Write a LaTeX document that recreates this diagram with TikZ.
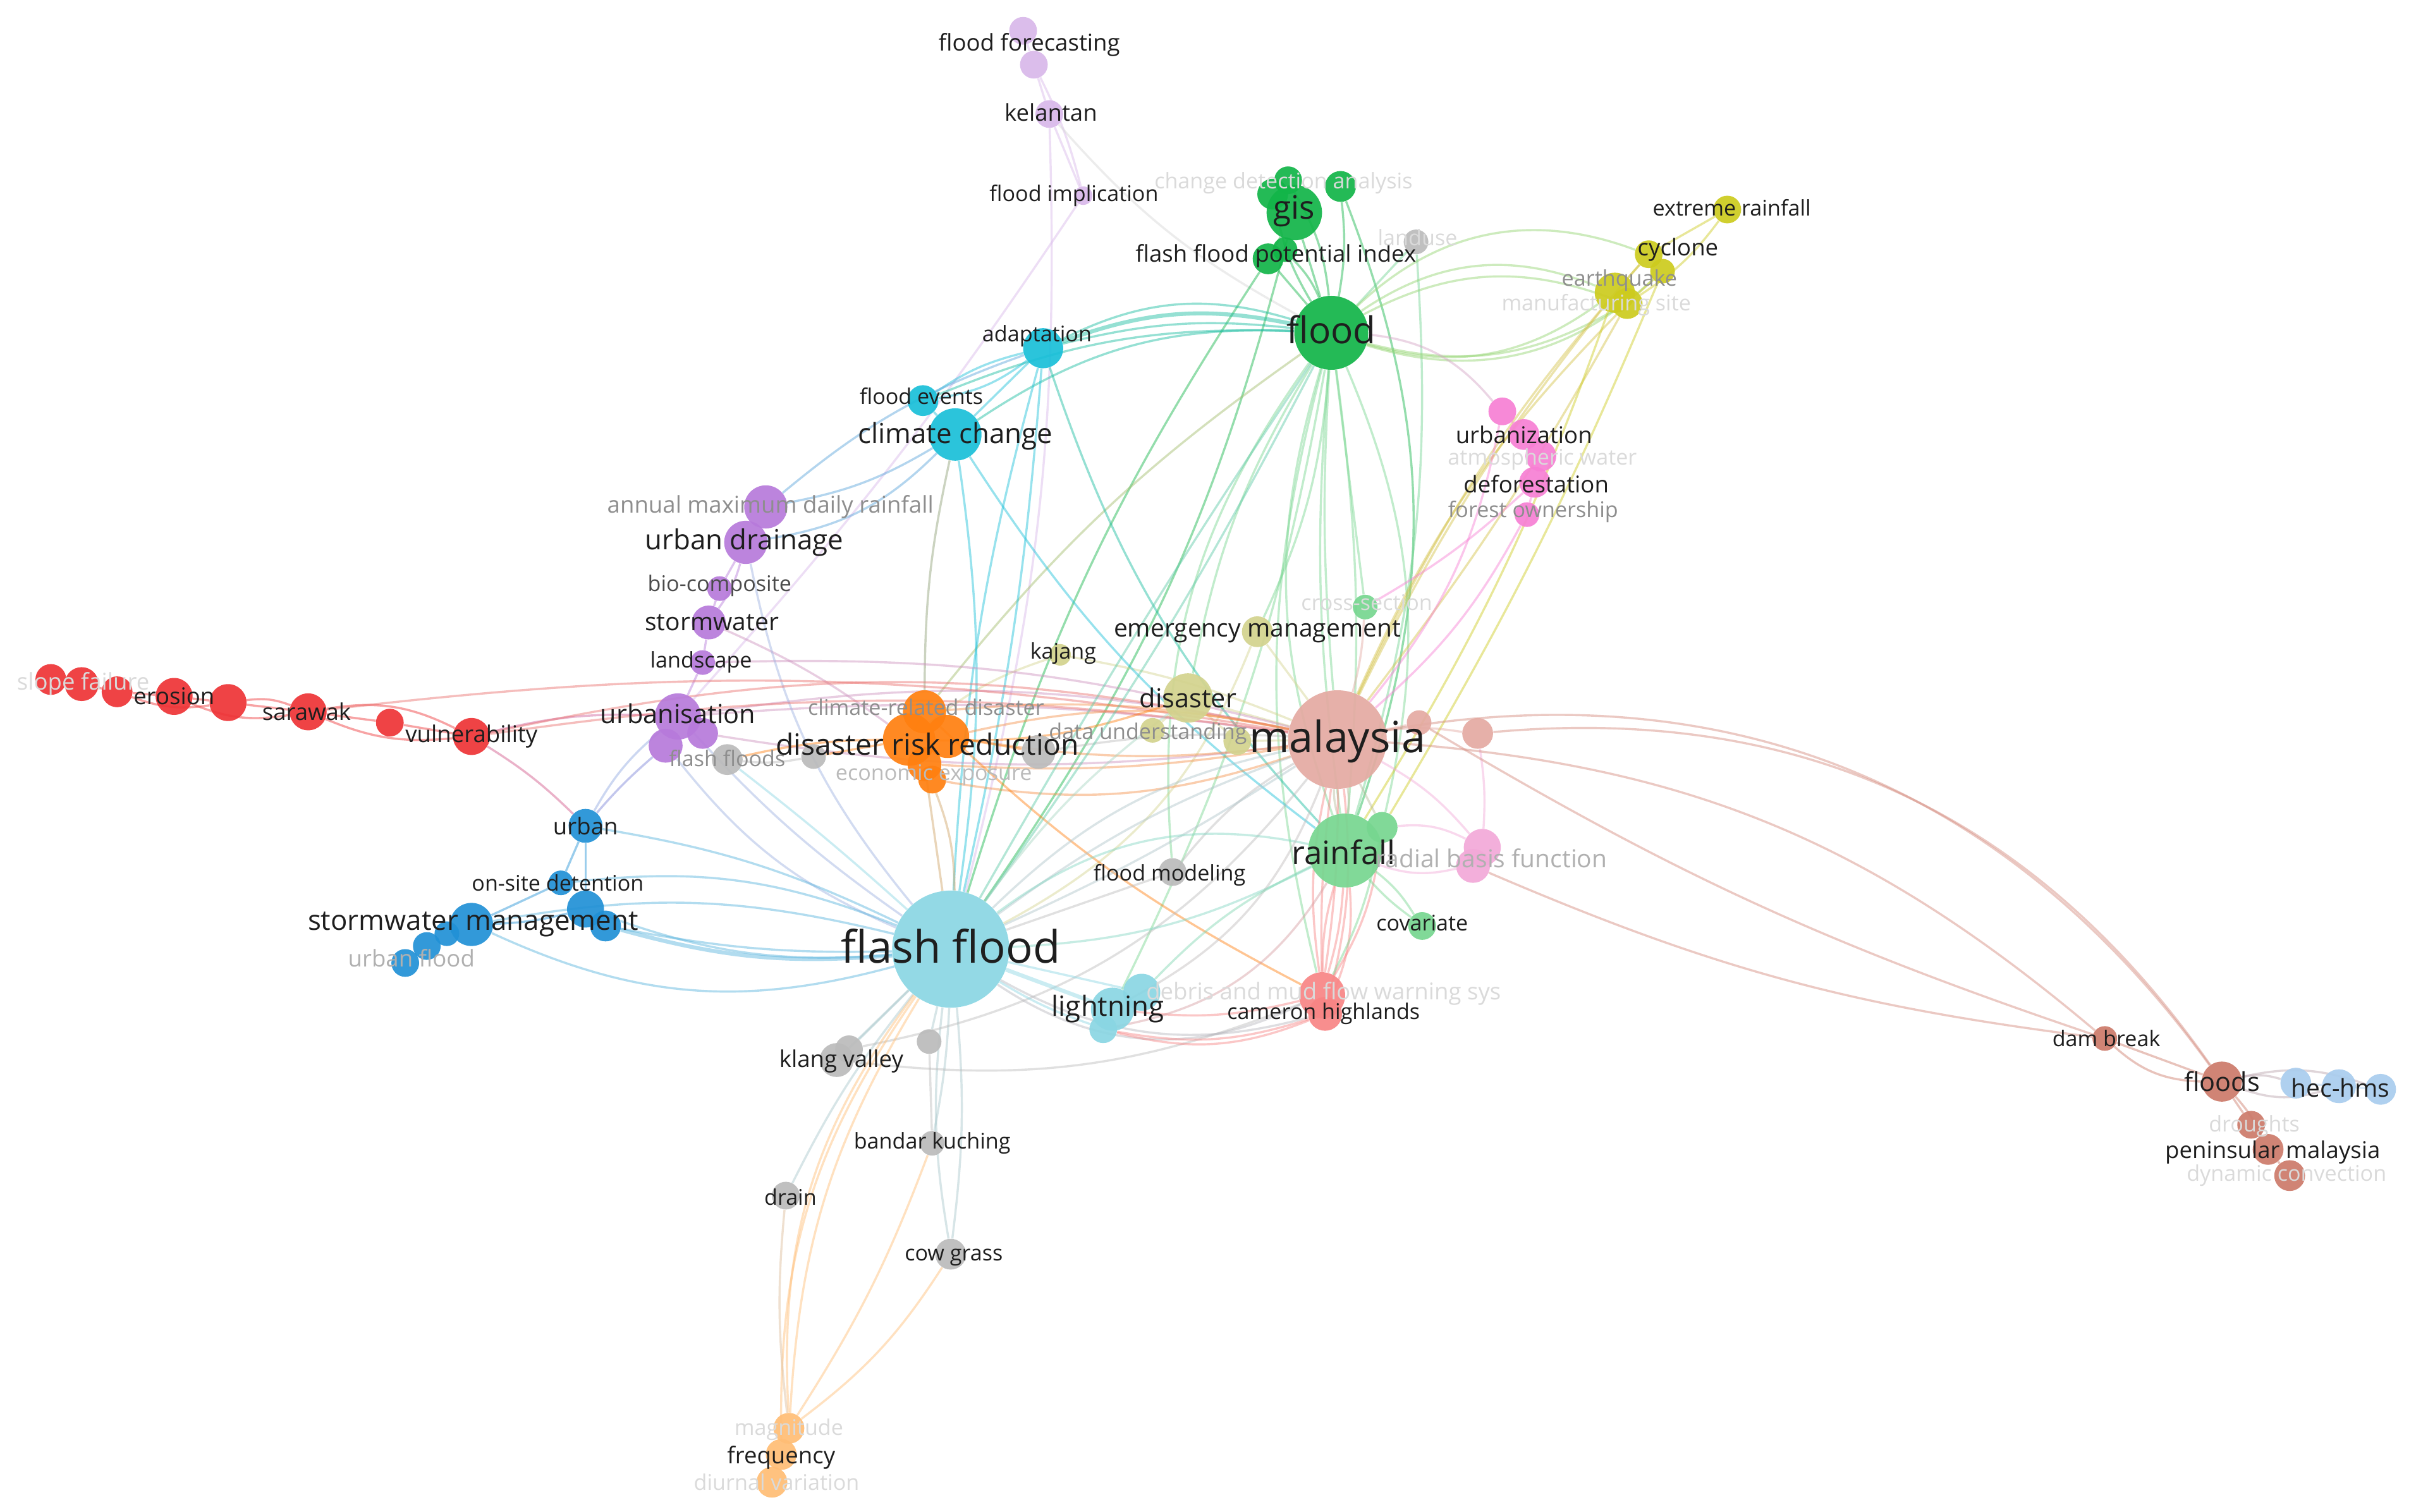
\documentclass[tikz,border=0pt]{standalone}
\usepackage{fontspec}
\setmainfont{Open Sans}
\pgfdeclarelayer{bg}
\pgfdeclarelayer{canvas}
\pgfsetlayers{canvas,bg,main}
\definecolor{cLav}{HTML}{D9B8EA}
\definecolor{cGreen}{HTML}{12B548}
\definecolor{cOlive}{HTML}{CDCB1E}
\definecolor{cOliveL}{HTML}{D3D38E}
\definecolor{cCyan}{HTML}{19BFD9}
\definecolor{cPurple}{HTML}{B77ADB}
\definecolor{cRed}{HTML}{EE3336}
\definecolor{cOrange}{HTML}{FF8010}
\definecolor{cGray}{HTML}{BBBBBB}
\definecolor{cBlue}{HTML}{2191D6}
\definecolor{cLCyan}{HTML}{8AD6E3}
\definecolor{cSalmon}{HTML}{E4AAA2}
\definecolor{cLGreen}{HTML}{77D690}
\definecolor{cPink}{HTML}{F77FD4}
\definecolor{cPinkL}{HTML}{F2A9D8}
\definecolor{cCoral}{HTML}{F88585}
\definecolor{cBrown}{HTML}{CC7A6A}
\definecolor{cLBlue}{HTML}{A9CDEE}
\definecolor{cLOrange}{HTML}{FFBD75}
\definecolor{labDark}{HTML}{1E1E1E}
\definecolor{labMid}{HTML}{8E8E8E}
\definecolor{labFaint}{HTML}{DADADA}
\tikzset{
  dot/.style={circle,inner sep=0pt,minimum size=2*#1,opacity=0.92},
  lab/.style={inner sep=0pt,text=labDark,font=\fontsize{#1}{#1}\selectfont},
  labm/.style={inner sep=0pt,text=labMid,font=\fontsize{#1}{#1}\selectfont},
  labf/.style={inner sep=0pt,text=labFaint,font=\fontsize{#1}{#1}\selectfont},
  ed/.style={line width=1.4pt,draw opacity=0.45,draw=#1},
  edt/.style={line width=2.6pt,draw opacity=0.45,draw=#1},
}
\begin{document}
\begin{tikzpicture}[x=1pt,y=-1pt]
\begin{pgfonlayer}{canvas}
\fill[white] (0,0) rectangle (1568,981);
\end{pgfonlayer}
\useasboundingbox (0,0) rectangle (1568,981);
% ---------------- circles ----------------
% lavender
\node[dot=9,fill=cLav] (ffc1) at (664,20) {};
\node[dot=9,fill=cLav] (ffc2) at (671,42) {};
\node[dot=9,fill=cLav] (kel) at (681,74) {};
\node[dot=6,fill=cLav] (fimp) at (703,127) {};
% green
\node[dot=9,fill=cGreen] (gis4) at (836,117) {};
\node[dot=10,fill=cGreen] (gis3) at (870,121) {};
\node[dot=10,fill=cGreen] (gis2) at (826,126) {};
\node[dot=18,fill=cGreen] (gis) at (840,138) {};
\node[dot=10,fill=cGreen] (ffpi) at (823,168) {};
\node[dot=8,fill=cGreen] (ffpi2) at (834,162) {};
\node[dot=24,fill=cGreen] (flood) at (864,216) {};
\node[dot=8,fill=cGray] (landuse) at (919,157) {};
\node[dot=8,fill=cLGreen] (xsec) at (886,394) {};
% olive
\node[dot=9,fill=cOlive] (er) at (1121,136) {};
\node[dot=9,fill=cOlive] (cyc) at (1070,165) {};
\node[dot=8,fill=cOlive] (cyc2) at (1079,176) {};
\node[dot=13,fill=cOlive] (eq) at (1048,190) {};
\node[dot=10,fill=cOlive] (eq2) at (1056,197) {};
\node[dot=10,fill=cOliveL] (em) at (816,410) {};
\node[dot=7,fill=cOliveL] (kaj) at (688,425) {};
\node[dot=16,fill=cOliveL] (dis) at (771,453) {};
\node[dot=8,fill=cOliveL] (du1) at (748,474) {};
\node[dot=9,fill=cOliveL] (du2) at (803,481) {};
% cyan
\node[dot=13,fill=cCyan] (adp) at (677,226) {};
\node[dot=10,fill=cCyan] (fev) at (599,260) {};
\node[dot=17,fill=cCyan] (cc) at (620,282) {};
% purple
\node[dot=14,fill=cPurple] (amd) at (497,329) {};
\node[dot=14,fill=cPurple] (ud) at (484,352) {};
\node[dot=8,fill=cPurple] (bio) at (467,382) {};
\node[dot=11,fill=cPurple] (sw) at (460,404) {};
\node[dot=8,fill=cPurple] (lsc) at (456,430) {};
\node[dot=15,fill=cPurple] (urb) at (440,465) {};
\node[dot=11,fill=cPurple] (urb2) at (432,484) {};
\node[dot=10,fill=cPurple] (urb3) at (456,476) {};
% red
\node[dot=10,fill=cRed] (sf1) at (33,441) {};
\node[dot=11,fill=cRed] (sf2) at (53,444) {};
\node[dot=10,fill=cRed] (sf3) at (76,449) {};
\node[dot=12,fill=cRed] (ero) at (113,452) {};
\node[dot=12,fill=cRed] (ero2) at (148,456) {};
\node[dot=12,fill=cRed] (sar) at (200,462) {};
\node[dot=9,fill=cRed] (red7) at (253,469) {};
\node[dot=12,fill=cRed] (vul) at (306,478) {};
% orange
\node[dot=14,fill=cOrange] (drr2) at (600,462) {};
\node[dot=14,fill=cOrange] (drr3) at (615,478) {};
\node[dot=17,fill=cOrange] (drr) at (590,480) {};
\node[dot=11,fill=cOrange] (drr4) at (600,496) {};
\node[dot=9,fill=cOrange] (drr5) at (605,506) {};
% gray
\node[dot=10,fill=cGray] (fls) at (472,493) {};
\node[dot=8,fill=cGray] (g2) at (528,491) {};
\node[dot=11,fill=cGray] (g3) at (674,488) {};
\node[dot=9,fill=cGray] (fm) at (761,566) {};
\node[dot=9,fill=cGray] (kv2) at (551,681) {};
\node[dot=11,fill=cGray] (kv) at (543,688) {};
\node[dot=8,fill=cGray] (g4) at (603,676) {};
\node[dot=8,fill=cGray] (bk) at (605,742) {};
\node[dot=9,fill=cGray] (drn) at (510,776) {};
\node[dot=10,fill=cGray] (cg) at (617,814) {};
% blue
\node[dot=11,fill=cBlue] (ub) at (380,536) {};
\node[dot=8,fill=cBlue] (osd) at (364,573) {};
\node[dot=14,fill=cBlue] (swm) at (306,600) {};
\node[dot=12,fill=cBlue] (swm2) at (380,590) {};
\node[dot=10,fill=cBlue] (swm3) at (393,601) {};
\node[dot=8,fill=cBlue] (uf3) at (290,606) {};
\node[dot=9,fill=cBlue] (uf2) at (277,614) {};
\node[dot=9,fill=cBlue] (uf1) at (263,625) {};
% light cyan
\node[dot=38,fill=cLCyan] (ffl) at (617,616) {};
\node[dot=12,fill=cLCyan] (lt2) at (741,644) {};
\node[dot=14,fill=cLCyan] (lt) at (722,655) {};
\node[dot=9,fill=cLCyan] (lt3) at (716,668) {};
% salmon
\node[dot=32,fill=cSalmon] (mal) at (868,480) {};
\node[dot=8,fill=cSalmon] (m2) at (921,469) {};
\node[dot=10,fill=cSalmon] (m3) at (959,476) {};
% light green
\node[dot=10,fill=cLGreen] (rf2) at (897,537) {};
\node[dot=24,fill=cLGreen] (rf) at (873,552) {};
\node[dot=9,fill=cLGreen] (cov) at (923,601) {};
% pink
\node[dot=9,fill=cPink] (uz1) at (975,267) {};
\node[dot=10,fill=cPink] (uz2) at (989,282) {};
\node[dot=10,fill=cPink] (uz3) at (1000,296) {};
\node[dot=10,fill=cPink] (def) at (996,313) {};
\node[dot=8,fill=cPink] (fo) at (991,334) {};
\node[dot=12,fill=cPinkL] (rbf) at (962,550) {};
\node[dot=11,fill=cPinkL] (rbf2) at (956,562) {};
% coral
\node[dot=15,fill=cCoral] (ch) at (858,646) {};
\node[dot=11,fill=cCoral] (ch2) at (860,658) {};
% brown
\node[dot=8,fill=cBrown] (db) at (1366,674) {};
\node[dot=13,fill=cBrown] (flds) at (1442,702) {};
\node[dot=9,fill=cBrown] (dr) at (1461,730) {};
\node[dot=10,fill=cBrown] (pm) at (1472,746) {};
\node[dot=10,fill=cBrown] (dc) at (1486,763) {};
% light blue
\node[dot=10,fill=cLBlue] (hh1) at (1490,703) {};
\node[dot=11,fill=cLBlue] (hh2) at (1518,705) {};
\node[dot=10,fill=cLBlue] (hh3) at (1545,707) {};
% light orange
\node[dot=10,fill=cLOrange] (mag) at (512,927) {};
\node[dot=10,fill=cLOrange] (frq) at (507,944) {};
\node[dot=10,fill=cLOrange] (dv) at (501,962) {};

% ---------------- edges ----------------
\begin{pgfonlayer}{bg}
% lavender chain
\draw[ed=cLav] (ffc1) -- (ffc2) -- (kel) -- (fimp);
\draw[ed=cLav] (kel) to[bend left=8] (ffl);
\draw[ed=cLav] (ffc2) to[bend left=6] (fimp);
\draw[ed=cLav] (fimp) to[bend left=4] (urb);
\draw[ed=cGray!60] (kel) to[bend right=10] (flood);
% green cluster
\draw[ed=cGreen] (gis) -- (flood);
\draw[ed=cGreen] (gis2) to[bend right=10] (flood);
\draw[ed=cGreen] (gis3) to[bend left=8] (flood);
\draw[ed=cGreen] (gis4) to[bend left=12] (flood);
\draw[ed=cGreen] (ffpi) -- (flood);
\draw[ed=cGreen] (ffpi2) to[bend left=10] (flood);
\draw[ed=cGreen] (gis) -- (ffpi);
\draw[ed=cGreen] (gis3) to[bend left=20] (rf);
\draw[ed=cGreen] (gis) to[bend left=10] (ffl);
\draw[ed=cGreen] (ffpi) to[bend right=8] (ffl);
\draw[ed=cGreen!60] (landuse) to (flood);
\draw[ed=cGreen!60] (landuse) to[bend left=10] (rf);
\draw[ed=cLGreen] (flood) to[bend right=6] (rf);
\draw[ed=cLGreen] (flood) to[bend left=6] (rf);
\draw[ed=cLGreen] (flood) to[bend right=18] (rf);
\draw[ed=cLGreen] (flood) to[bend left=18] (rf2);
\draw[ed=cLGreen] (flood) -- (xsec);
\draw[ed=cLGreen] (flood) to[bend left=10] (em);
\draw[ed=cLGreen] (flood) to[bend right=14] (ch);
\draw[ed=cLGreen] (flood) to[bend right=10] (dis);
\draw[ed=cLGreen] (flood) to[bend right=4] (mal);
\draw[ed=cLGreen] (flood) to[bend right=20] (fm);
\draw[ed=cLGreen] (flood) to[bend left=8] (lt);
\draw[ed=cLGreen!70!cOrange] (flood) to[bend right=8] (drr2);
% flood - adaptation / climate change bundle
\draw[edt=cCyan!60!cGreen] (flood) to[bend right=16] (adp);
\draw[ed=cCyan!60!cGreen] (flood) to[bend right=22] (adp);
\draw[ed=cCyan!60!cGreen] (flood) to[bend right=10] (adp);
\draw[ed=cCyan!60!cGreen] (flood) to[bend right=18] (cc);
\draw[ed=cCyan!60!cGreen] (flood) to[bend right=12] (fev);
% flood - earthquake bundle (light green)
\draw[ed=cLGreen!70!cOlive] (flood) to[bend left=28] (eq);
\draw[ed=cLGreen!70!cOlive] (flood) to[bend left=24] (eq2);
\draw[ed=cLGreen!70!cOlive] (flood) to[bend left=32] (cyc);
\draw[ed=cLGreen!70!cOlive] (flood) to[bend right=26] (eq);
\draw[ed=cLGreen!70!cOlive] (flood) to[bend right=22] (eq2);
\draw[ed=cLGreen!70!cOlive] (flood) to[bend right=30] (cyc2);
\draw[ed=cGray!60!cPink] (flood) to[bend left=22] (uz1);
% olive
\draw[ed=cOlive] (er) -- (cyc) -- (eq);
\draw[ed=cOlive] (er) to[bend left=10] (eq2);
\draw[ed=cOlive] (cyc2) -- (eq2);
\draw[ed=cOlive!70!cSalmon] (eq) to[bend right=6] (mal);
\draw[ed=cOlive!70!cSalmon] (eq2) to[bend right=10] (mal);
\draw[ed=cOlive!70!cSalmon] (cyc) to[bend right=8] (mal);
\draw[ed=cOlive!70!cSalmon] (eq2) to[bend left=4] (mal);
\draw[ed=cOlive] (eq) to[bend left=6] (rf);
\draw[ed=cOlive] (cyc2) to[bend left=4] (rf2);
\draw[ed=cOliveL] (em) -- (mal);
\draw[ed=cOliveL] (kaj) to[bend left=6] (mal);
\draw[ed=cOliveL] (dis) -- (mal);
\draw[ed=cOliveL] (du1) -- (dis);
\draw[ed=cOliveL] (du2) -- (mal);
\draw[ed=cOliveL] (dis) -- (du2);
\draw[ed=cOliveL] (kaj) to[bend right=10] (drr);
\draw[ed=cOliveL] (em) to[bend left=20] (ffl);
% cyan
\draw[ed=cCyan] (cc) -- (adp);
\draw[ed=cCyan] (cc) -- (fev);
\draw[ed=cCyan] (fev) to[bend left=10] (adp);
\draw[ed=cCyan] (adp) to[bend left=14] (fev);
\draw[ed=cCyan!60!cPurple] (cc) to[bend left=10] (amd);
\draw[ed=cCyan!60!cPurple] (cc) to[bend left=18] (ud);
\draw[ed=cCyan!60!cPurple] (adp) to[bend right=10] (amd);
\draw[ed=cCyan] (cc) to[bend left=8] (ffl);
\draw[ed=cCyan] (adp) to[bend right=6] (ffl);
\draw[ed=cCyan] (adp) to[bend left=4] (ffl);
\draw[ed=cCyan] (cc) to[bend right=10] (rf);
\draw[ed=cCyan!50!cOrange] (cc) to[bend right=6] (drr2);
\draw[ed=cCyan!60!cGreen] (adp) to[bend right=12] (rf);
% purple chain
\draw[ed=cPurple] (amd) -- (ud) -- (bio) -- (sw) -- (lsc) -- (urb);
\draw[ed=cPurple] (ud) to[bend left=10] (sw);
\draw[ed=cPurple] (urb) -- (urb2);
\draw[ed=cPurple] (urb) -- (urb3);
\draw[ed=cPurple!60!cRed] (urb) to[bend right=8] (vul);
\draw[ed=cPurple!60!cBlue] (urb2) to[bend right=4] (ub);
\draw[ed=cPurple!50!cSalmon] (urb) to[bend left=10] (mal);
\draw[ed=cPurple!50!cSalmon] (urb) to[bend left=6] (mal);
\draw[ed=cPurple!50!cSalmon] (urb3) to[bend right=8] (mal);
\draw[ed=cPurple!50!cSalmon] (lsc) to[bend left=8] (mal);
\draw[ed=cPurple!50!cSalmon] (sw) to[bend left=6] (drr);
\draw[ed=cPurple!40!cLCyan] (urb2) to[bend right=14] (ffl);
\draw[ed=cPurple!40!cLCyan] (urb) to[bend right=6] (ffl);
\draw[ed=cPurple!40!cLCyan] (ud) to[bend right=14] (ffl);
% red chain
\draw[ed=cRed] (sf1) -- (sf2) -- (sf3) -- (ero) -- (ero2) -- (sar) -- (red7) -- (vul);
\draw[ed=cRed] (sf3) to[bend right=14] (ero2);
\draw[ed=cRed] (ero) to[bend right=16] (sar);
\draw[ed=cRed] (ero2) to[bend left=14] (sar);
\draw[ed=cRed] (sar) to[bend left=18] (vul);
\draw[ed=cRed] (sar) to[bend right=14] (vul);
\draw[ed=cRed!50!cSalmon] (vul) to[bend left=12] (mal);
\draw[ed=cRed!50!cSalmon] (vul) to[bend left=8] (mal);
\draw[ed=cRed!50!cSalmon] (sar) to[bend left=8] (mal);
\draw[ed=cRed!50!cPurple] (vul) to[bend left=6] (ub);
% orange
\draw[ed=cOrange] (drr) -- (drr2);
\draw[ed=cOrange] (drr) -- (drr3);
\draw[ed=cOrange] (drr) -- (drr4) -- (drr5);
\draw[ed=cOrange!60!cSalmon] (drr3) to[bend left=12] (mal);
\draw[ed=cOrange!60!cSalmon] (drr3) to[bend right=8] (mal);
\draw[ed=cOrange!60!cSalmon] (drr2) to[bend left=8] (mal);
\draw[ed=cOrange!60!cSalmon] (drr5) to[bend right=14] (mal);
\draw[ed=cOrange!60!cSalmon] (drr4) to[bend right=6] (mal);
\draw[ed=cOrange] (drr) to[bend right=6] (fls);
\draw[ed=cOrange] (drr) -- (g2);
\draw[ed=cOrange] (drr3) -- (g3);
\draw[ed=cOrange!60!cLCyan] (drr4) -- (ffl);
\draw[ed=cOrange!60!cLCyan] (drr5) to[bend left=10] (ffl);
\draw[ed=cOrange] (drr2) to[bend right=8] (ch);
\draw[ed=cOrange] (drr) to[bend right=10] (dis);
% gray
\draw[ed=cGray] (g3) to[bend left=6] (mal);
\draw[ed=cGray] (fls) to[bend right=8] (g2);
\draw[ed=cGray] (fm) -- (ffl);
\draw[ed=cGray] (fm) to[bend left=10] (mal);
\draw[ed=cGray!60!cLCyan] (kv) -- (ffl);
\draw[ed=cGray!60!cLCyan] (kv2) -- (ffl);
\draw[ed=cGray!60!cLCyan] (g4) -- (ffl);
\draw[ed=cGray!60!cLCyan] (bk) to[bend right=4] (ffl);
\draw[ed=cGray!60!cLCyan] (drn) to[bend left=6] (ffl);
\draw[ed=cGray!60!cLCyan] (cg) to[bend right=6] (ffl);
\draw[ed=cGray!60!cLCyan] (cg) to[bend left=8] (ffl);
\draw[ed=cGray] (kv) to[bend right=14] (ch);
\draw[ed=cGray] (kv2) to[bend right=20] (mal);
\draw[ed=cGray] (bk) -- (g4);
% light orange
\draw[ed=cLOrange] (mag) -- (frq) -- (dv);
\draw[ed=cLOrange] (mag) to[bend left=14] (ffl);
\draw[ed=cLOrange] (mag) to[bend left=20] (ffl);
\draw[ed=cLOrange] (frq) to[bend left=18] (ffl);
\draw[ed=cLOrange] (mag) to[bend right=10] (cg);
\draw[ed=cLOrange] (mag) to[bend right=6] (bk);
\draw[ed=cLOrange!50!cGray] (mag) to[bend left=6] (drn);
% blue
\draw[ed=cBlue] (ub) -- (osd);
\draw[ed=cBlue] (ub) -- (swm2);
\draw[ed=cBlue] (osd) -- (swm);
\draw[ed=cBlue] (swm2) -- (swm3);
\draw[ed=cBlue] (swm) -- (uf3) -- (uf2) -- (uf1);
\draw[ed=cBlue] (swm) to[bend right=6] (swm2);
\draw[ed=cBlue!50!cLCyan] (swm3) to[bend right=6] (ffl);
\draw[edt=cBlue!50!cLCyan] (swm3) to[bend right=10] (ffl);
\draw[ed=cBlue!50!cLCyan] (swm2) to[bend right=12] (ffl);
\draw[ed=cBlue!50!cLCyan] (swm) to[bend right=20] (ffl);
\draw[ed=cBlue!50!cLCyan] (swm) to[bend left=12] (ffl);
\draw[ed=cBlue!50!cLCyan] (ub) to[bend left=8] (ffl);
\draw[ed=cBlue!50!cLCyan] (osd) to[bend left=14] (ffl);
\draw[ed=cBlue!40!cLav] (ub) to[bend left=10] (urb);
% flash flood hub
\draw[edt=cLCyan] (ffl) -- (lt);
\draw[ed=cLCyan] (ffl) -- (lt2);
\draw[ed=cLCyan] (ffl) to[bend right=6] (lt3);
\draw[ed=cLCyan!60!cSalmon] (ffl) to[bend left=8] (mal);
\draw[ed=cLCyan!60!cSalmon] (ffl) to[bend left=16] (mal);
\draw[ed=cLCyan!60!cSalmon] (ffl) to[bend right=4] (mal);
\draw[ed=cLCyan!60!cGreen] (ffl) to[bend left=2] (flood);
\draw[ed=cLCyan!60!cGreen] (ffl) to[bend right=4] (flood);
\draw[ed=cLCyan!60!cLGreen] (ffl) to[bend left=24] (rf);
\draw[ed=cLCyan!60!cLGreen] (ffl) to[bend right=12] (rf);
\draw[ed=cLCyan!60!cCoral] (ffl) to[bend right=30] (ch);
\draw[ed=cLCyan!60!cCoral] (ffl) to[bend right=22] (ch2);
\draw[ed=cLCyan!60!cOliveL] (ffl) to[bend left=8] (dis);
\draw[ed=cLCyan] (ffl) to[bend right=2] (fls);
% malaysia hub
\draw[ed=cSalmon] (mal) -- (m2);
\draw[ed=cSalmon] (mal) to[bend left=8] (m3);
\draw[ed=cSalmon!60!cLGreen] (mal) to[bend right=8] (rf);
\draw[ed=cSalmon!60!cLGreen] (mal) to[bend left=8] (rf);
\draw[ed=cSalmon!60!cLGreen] (mal) -- (rf2);
\draw[ed=cCoral] (mal) to[bend right=10] (ch);
\draw[ed=cCoral] (mal) to[bend right=4] (ch);
\draw[ed=cCoral] (mal) to[bend left=4] (ch);
\draw[ed=cCoral] (mal) to[bend left=10] (ch2);
\draw[ed=cCoral] (rf) to[bend right=8] (ch);
\draw[ed=cCoral] (rf) to[bend left=6] (ch);
\draw[ed=cCoral] (rf) to[bend left=14] (ch2);
\draw[ed=cCoral] (rf2) to[bend left=12] (ch);
\draw[ed=cCoral] (ch) to[bend left=10] (lt);
\draw[ed=cCoral] (ch2) to[bend left=14] (lt3);
\draw[ed=cCoral] (ch2) to[bend left=18] (lt3);
\draw[ed=cSalmon!60!cLCyan] (mal) to[bend left=20] (lt);
\draw[ed=cCoral!70!cLCyan] (rf) to[bend left=24] (lt3);
\draw[ed=cSalmon] (mal) to[bend right=6] (xsec);
\draw[ed=cPink] (mal) to[bend right=10] (fo);
\draw[ed=cPink] (mal) to[bend right=14] (uz1);
\draw[ed=cPink] (xsec) to[bend right=6] (def);
\draw[ed=cPink] (uz1) -- (uz2) -- (uz3) -- (def) -- (fo);
\draw[ed=cLGreen] (rf) -- (rf2);
\draw[ed=cLGreen] (rf) to[bend left=10] (cov);
\draw[ed=cLGreen] (rf) to[bend right=6] (cov);
\draw[ed=cPinkL] (rf2) to[bend left=16] (rbf);
\draw[ed=cPinkL] (rf) to[bend right=16] (rbf2);
\draw[ed=cPinkL] (m3) to[bend left=6] (rbf);
\draw[ed=cPinkL] (mal) to[bend left=10] (rbf);
\draw[ed=cLGreen] (ch) to[bend right=8] (rf2);
\draw[ed=cLGreen!60!cLCyan] (lt2) to[bend left=10] (rf);
% long right-hand edges
\draw[ed=cBrown!70!cSalmon] (mal) to[bend left=32] (flds);
\draw[ed=cBrown!70!cSalmon] (m3) to[bend left=30] (flds);
\draw[ed=cBrown!70!cSalmon] (mal) to[bend left=18] (db);
\draw[ed=cBrown!70!cSalmon] (m2) to[bend right=6] (db);
\draw[ed=cBrown!70!cSalmon] (rbf2) to[bend right=8] (db);
\draw[ed=cBrown] (db) -- (flds);
\draw[ed=cBrown] (db) to[bend right=20] (flds);
\draw[ed=cBrown] (flds) -- (dr) -- (pm) -- (dc);
\draw[ed=cBrown] (flds) to[bend left=8] (pm);
\draw[ed=cBrown!50!cLBlue] (flds) to[bend left=14] (hh1);
\draw[ed=cBrown!50!cLBlue] (flds) to[bend right=18] (hh2);
\draw[ed=cBrown!50!cLBlue] (flds) to[bend left=16] (hh3);
\draw[ed=cLBlue] (hh1) -- (hh2) -- (hh3);
\end{pgfonlayer}

% ---------------- labels ----------------
\node[lab=15] (Lffc) at (668,29) {flood forecasting};
\node[lab=15] (Lkel) at (682,73) {kelantan};
\node[lab=14] (Lfimp) at (697,127) {flood implication};
\node[labf=14] (Lcda) at (833,119) {change detection analysis};
\node[lab=21] (Lgis) at (840,137) {gis};
\node[lab=15] (Lffpi) at (828,166) {flash flood potential index};
\node[labf=14] (Llu) at (920,154) {landuse};
\node[lab=14] (Ler) at (1124,135) {extreme rainfall};
\node[lab=15] (Lcyc) at (1089,162) {cyclone};
\node[labm=14] (Leq) at (1051,182) {earthquake};
\node[labf=14] (Lms) at (1036,198) {manufacturing site};
\node[lab=24] (Lflood) at (864,214) {flood};
\node[lab=14] (Ladp) at (673,218) {adaptation};
\node[lab=14] (Lfev) at (598,257) {flood events};
\node[lab=18] (Lcc) at (620,283) {climate change};
\node[lab=15] (Luz) at (989,282) {urbanization};
\node[labf=14] (Law) at (1001,298) {atmospheric water};
\node[lab=15] (Ldef) at (997,314) {deforestation};
\node[labm=14] (Lfo) at (995,332) {forest ownership};
\node[labm=15] (Lamd) at (500,329) {annual maximum daily rainfall};
\node[lab=18] (Lud) at (483,352) {urban drainage};
\node[lab=14,text=labDark!80] (Lbio) at (467,380) {bio-composite};
\node[lab=16] (Lsw) at (462,404) {stormwater};
\node[lab=14] (Llsc) at (455,430) {landscape};
\node[labf=14] (Lxsec) at (887,391) {cross-section};
\node[lab=16] (Lem) at (816,410) {emergency management};
\node[lab=14] (Lkaj) at (690,424) {kajang};
\node[labf=15] (Lsf) at (54,444) {slope failure};
\node[lab=15] (Lero) at (113,452) {erosion};
\node[lab=15] (Lsar) at (199,462) {sarawak};
\node[lab=15] (Lvul) at (306,478) {vulnerability};
\node[lab=17] (Lurb) at (440,463) {urbanisation};
\node[labm=14] (Lcrd) at (601,459) {climate-related disaster};
\node[lab=17] (Ldis) at (771,453) {disaster};
\node[lab=19] (Ldrr) at (602,483) {disaster risk reduction};
\node[labm=14] (Ldu) at (745,476) {data understanding};
\node[lab=28] (Lmal) at (868,481) {malaysia};
\node[labm=14] (Lfls) at (472,492) {flash floods};
\node[labf=14,text=labMid!60] (Lee) at (606,503) {economic exposure};
\node[lab=15] (Lub) at (380,536) {urban};
\node[lab=21] (Lrf) at (872,553) {rainfall};
\node[labf=16,text=labMid!70] (Lrbf) at (968,557) {radial basis function};
\node[lab=14] (Losd) at (362,573) {on-site detention};
\node[lab=14] (Lfm) at (759,568) {flood modeling};
\node[lab=18] (Lswm) at (307,600) {stormwater management};
\node[lab=14] (Lcov) at (923,599) {covariate};
\node[labf=15,text=labMid!70] (Luf) at (267,622) {urban flood};
\node[lab=29] (Lffl) at (617,614) {flash flood};
\node[labf=15] (Ldeb) at (859,645) {debris and mud flow warning sys};
\node[lab=18] (Llt) at (719,655) {lightning};
\node[lab=14] (Lch) at (859,658) {cameron highlands};
\node[lab=14] (Ldb) at (1367,674) {dam break};
\node[lab=15] (Lkv) at (546,689) {klang valley};
\node[lab=17] (Lflds) at (1442,702) {floods};
\node[lab=16] (Lhh) at (1519,706) {hec-hms};
\node[labf=14] (Ldr) at (1463,731) {droughts};
\node[lab=14] (Lbk) at (605,742) {bandar kuching};
\node[lab=15] (Lpm) at (1475,748) {peninsular malaysia};
\node[labf=14] (Ldc) at (1484,763) {dynamic convection};
\node[lab=14] (Ldrn) at (513,777) {drain};
\node[lab=14] (Lcg) at (619,816) {cow grass};
\node[labf=14] (Lmag) at (512,928) {magnitude};
\node[lab=15] (Lfrq) at (507,946) {frequency};
\node[labf=14] (Ldv) at (504,962) {diurnal variation};
\end{tikzpicture}
\end{document}
